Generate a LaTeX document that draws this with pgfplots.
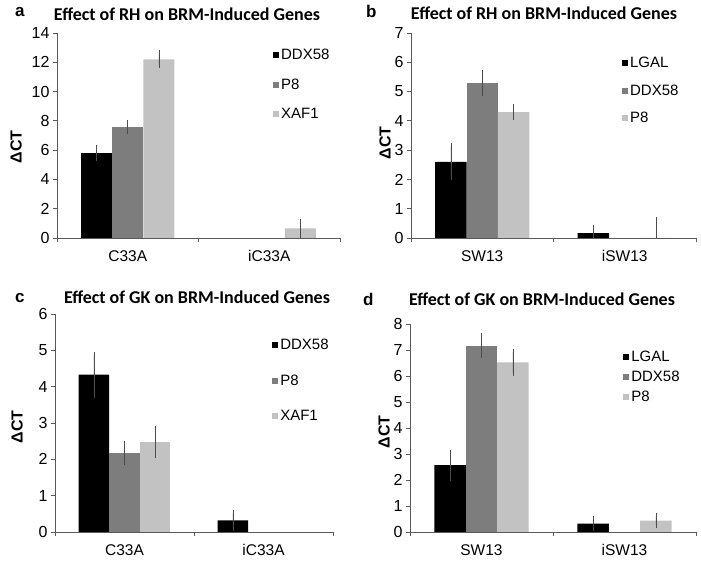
\documentclass[border=0pt]{standalone}
\usepackage{fontspec}
\setmainfont{Liberation Sans}
\newfontfamily\titlefont{Carlito}
\usepackage{pgfplots}
\usepackage{pgfplotstable}
\pgfplotsset{compat=1.18}

\definecolor{cblack}{HTML}{000000}
\definecolor{cgray}{HTML}{7D7D7D}
\definecolor{clight}{HTML}{C2C2C2}

% x, then value and error for each of the three genes (nan = no bar)
\pgfplotstableread{
x  a    ae    b    be    c     ce
0  5.8  0.33  7.6  0.26  12.2  0.4
1  nan  0     nan  0     0.65  0.47
}\dataA
\pgfplotstableread{
x  a    ae    b    be    c     ce
0  2.6  0.53  5.3  0.34  4.3   0.17
1  0.17 0.17  nan  0     0     0.63
}\dataB
\pgfplotstableread{
x  a    ae    b    be    c     ce
0  4.33 0.55  2.18 0.24  2.48  0.35
1  0.32 0.21  nan  0     nan   0
}\dataC
\pgfplotstableread{
x  a    ae    b    be    c     ce
0  2.57 0.48  7.17 0.35  6.52  0.41
1  0.32 0.17  nan  0     0.44  0.16
}\dataD

\pgfplotsset{
  panel/.style={
    scale only axis, anchor=south west,
    ybar=0pt, bar width=0.22,
    xmin=-0.5, xmax=1.5, ymin=0,
    axis lines=left, axis line style={-, black!65, line width=0.8bp},
    tick align=outside,
    xtick={0,1},
    minor xtick={-0.5,0.5,1.5},
    major x tick style={draw=none},
    minor x tick style={black!65, line width=0.8bp},
    y tick style={black!65, line width=0.8bp},
    major tick length=4bp, minor tick length=4bp,
    yticklabel style={font=\fontsize{16bp}{16bp}\selectfont},
    xticklabel style={font=\fontsize{15.5bp}{15.5bp}\selectfont, yshift=-5bp},
    /pgf/number format/assume math mode=true,
    legend image code/.code={\fill[##1] (0.5bp,-3bp) rectangle (6.5bp,3bp);},
    legend cell align=left,
    legend style={draw=none, fill=none, inner sep=0pt, anchor=north west,
      font=\fontsize{15bp}{15bp}\selectfont},
  },
  bars/.style={draw=none, fill=#1,
    error bars/.cd, y dir=both, y explicit,
    error bar style={black!70, line width=0.7bp},
    error mark options={black!70, mark size=3bp, line width=0.7bp}},
}

\begin{document}
\begin{tikzpicture}[x=1bp, y=1bp]
\useasboundingbox (0bp,0bp) rectangle (701bp,562bp);

% panel a
\begin{axis}[panel, at={(57bp,324bp)}, width=283bp, height=205bp,
  ymax=14, ytick={0,2,...,14}, xticklabels={C33A,iC33A},
  legend style={at={(rel axis cs:0.763,0.932)}, row sep=13.5bp}]
\addplot[bars=cblack] table[x=x, y=a, y error=ae] {\dataA};
\addplot[bars=cgray]  table[x=x, y=b, y error=be] {\dataA};
\addplot[bars=clight] table[x=x, y=c, y error=ce] {\dataA};
\legend{DDX58,P8,XAF1}
\end{axis}

% panel b
\begin{axis}[panel, at={(411bp,324bp)}, width=285bp, height=205bp,
  ymax=7, ytick={0,1,...,7}, xticklabels={SW13,iSW13},
  legend style={at={(rel axis cs:0.740,0.893)}, row sep=11.5bp}]
\addplot[bars=cblack] table[x=x, y=a, y error=ae] {\dataB};
\addplot[bars=cgray]  table[x=x, y=b, y error=be] {\dataB};
\addplot[bars=clight] table[x=x, y=c, y error=ce] {\dataB};
\legend{LGAL,DDX58,P8}
\end{axis}

% panel c
\begin{axis}[panel, at={(55bp,30bp)}, width=278bp, height=218bp,
  ymax=6, ytick={0,1,...,6}, xticklabels={C33A,iC33A},
  legend style={at={(rel axis cs:0.781,0.895)}, row sep=19.5bp}]
\addplot[bars=cblack] table[x=x, y=a, y error=ae] {\dataC};
\addplot[bars=cgray]  table[x=x, y=b, y error=be] {\dataC};
\addplot[bars=clight] table[x=x, y=c, y error=ce] {\dataC};
\legend{DDX58,P8,XAF1}
\end{axis}

% panel d
\begin{axis}[panel, at={(410bp,30bp)}, width=286bp, height=208bp,
  ymax=8, ytick={0,1,...,8}, xticklabels={SW13,iSW13},
  legend style={at={(rel axis cs:0.745,0.880)}, row sep=4bp}]
\addplot[bars=cblack] table[x=x, y=a, y error=ae] {\dataD};
\addplot[bars=cgray]  table[x=x, y=b, y error=be] {\dataD};
\addplot[bars=clight] table[x=x, y=c, y error=ce] {\dataD};
\legend{LGAL,DDX58,P8}
\end{axis}

% titles, panel letters, y labels
\begin{scope}[every node/.style={inner sep=0pt}]
\node[anchor=base, font=\titlefont\bfseries\fontsize{18bp}{18bp}\selectfont] at (187,541) {Effect of RH on BRM-Induced Genes};
\node[anchor=base, font=\titlefont\bfseries\fontsize{18bp}{18bp}\selectfont] at (544,542) {Effect of RH on BRM-Induced Genes};
\node[anchor=base, font=\titlefont\bfseries\fontsize{18bp}{18bp}\selectfont] at (197,259) {Effect of GK on BRM-Induced Genes};
\node[anchor=base, font=\titlefont\bfseries\fontsize{18bp}{18bp}\selectfont] at (542,257) {Effect of GK on BRM-Induced Genes};
\node[anchor=base west, font=\bfseries\fontsize{17bp}{17bp}\selectfont] at (15,545) {a};
\node[anchor=base west, font=\bfseries\fontsize{17bp}{17bp}\selectfont] at (366,544) {b};
\node[anchor=base west, font=\bfseries\fontsize{17bp}{17bp}\selectfont] at (15,260) {c};
\node[anchor=base west, font=\bfseries\fontsize{17bp}{17bp}\selectfont] at (363,257) {d};
\node[rotate=90, font=\bfseries\fontsize{16bp}{16bp}\selectfont] at (16,415) {ΔCT};
\node[rotate=90, font=\bfseries\fontsize{16bp}{16bp}\selectfont] at (385,419) {ΔCT};
\node[rotate=90, font=\bfseries\fontsize{16bp}{16bp}\selectfont] at (17,135) {ΔCT};
\node[rotate=90, font=\bfseries\fontsize{16bp}{16bp}\selectfont] at (384,130) {ΔCT};
\end{scope}
\end{tikzpicture}
\end{document}
